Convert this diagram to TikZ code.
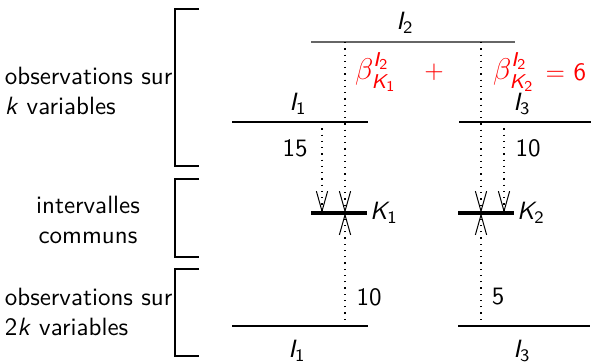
\documentclass[tikz,border=0pt]{standalone}
\usepackage{amsmath}
\usetikzlibrary{arrows.meta,positioning,calc}
\renewcommand{\familydefault}{\sfdefault}
\newcommand{\vsf}[2]{\textit{#1}_{\textsf{#2}}}
\tikzset{
  interval/.style={line width=0.5pt},
  haut/.style={line width=0.7pt, black!60},
  commun/.style={line width=1.8pt},
  crochet/.style={line width=0.5pt},
  lien/.style={dotted, line width=0.5pt},
  fleche/.style={lien, -{Straight Barb[length=8pt,width=4.5pt,line width=0.4pt]}},
  rouge/.style={text=red, font=\large}
}
\begin{document}
\begin{tikzpicture}[x=0.4pt, y=-0.4pt]
\useasboundingbox (0,0) rectangle (591,363);
% crochets
\draw[crochet] (199,9) -| (175,166) -- (199,166);
\draw[crochet] (199,179) -| (175,257) -- (199,257);
\draw[crochet] (199,269) -| (175,356) -- (199,356);
\node[align=left, anchor=west] (obsk) at (-4,91) {observations sur\\\textit{k} variables};
\node[align=center] (comm) at (88,220) {intervalles\\communs};
\node[align=left, anchor=west] (obsdk) at (-4,312) {observations sur\\2\textit{k} variables};
% intervalles
\coordinate (IIg) at (311,42);
\coordinate (IId) at (515,42);
\coordinate (Ig) at (232,122);
\coordinate (Id) at (368,122);
\coordinate (IIIg) at (459,122);
\coordinate (IIId) at (591,122);
\coordinate (Kg) at (311,213);
\coordinate (Kd) at (367,213);
\coordinate (KKg) at (458,213);
\coordinate (KKd) at (514,213);
\coordinate (Bg) at (232,326);
\coordinate (Bd) at (368,326);
\coordinate (BBg) at (458,326);
\coordinate (BBd) at (590,326);
\draw[haut] (IIg) -- (IId);
\draw[interval] (Ig) -- (Id);
\draw[interval] (IIIg) -- (IIId);
\draw[commun] (Kg) -- (Kd);
\draw[commun] (KKg) -- (KKd);
\draw[interval] (Bg) -- (Bd);
\draw[interval] (BBg) -- (BBd);
\node (lII) at (405,23) {$\vsf{I}{2}$};
\node (lI) at (298,104) {$\vsf{I}{1}$};
\node (lIII) at (522,104) {$\vsf{I}{3}$};
\node[anchor=west, inner sep=1pt] (lK) at (Kd) {$\vsf{K}{1}$};
\node[anchor=west, inner sep=1pt] (lKK) at (KKd) {$\vsf{K}{2}$};
\node (lIb) at (297,351) {$\vsf{I}{1}$};
\node (lIIIb) at (522,351) {$\vsf{I}{3}$};
% points
\coordinate (a) at (345,42);
\coordinate (b) at (322,122);
\coordinate (c) at (481,42);
\coordinate (d) at (504,122);
\coordinate (Ka) at (345,213);
\coordinate (Kb) at (322,213);
\coordinate (Kc) at (481,213);
\coordinate (Kd2) at (504,213);
\coordinate (Ba) at (345,326);
\coordinate (Bc) at (481,326);
\draw[fleche] (a) -- (Ka);
\draw[fleche] (b) -- (Kb);
\draw[fleche] (c) -- (Kc);
\draw[fleche] (d) -- (Kd2);
\draw[fleche] (Ba) -- (Ka);
\draw[fleche] (Bc) -- (Kc);
% effectifs
\node (n15) at (295,148) {15};
\node (n10) at (528,148) {10};
\node (m10) at (369,297) {10};
\node (m5) at (498,297) {5};
\node[rouge] (b1) at (376,72) {$\beta^{\vsf{I}{2}}_{\vsf{K}{1}}$};
\node[rouge, font=\normalsize] (plus) at (434,72) {$+$};
\node[rouge] (b2) at (514,72) {$\beta^{\vsf{I}{2}}_{\vsf{K}{2}}$};
\node[rouge, font=\normalsize, anchor=east, inner sep=1pt] (egal) at (589,72) {$=$\ 6};
\end{tikzpicture}
\end{document}
